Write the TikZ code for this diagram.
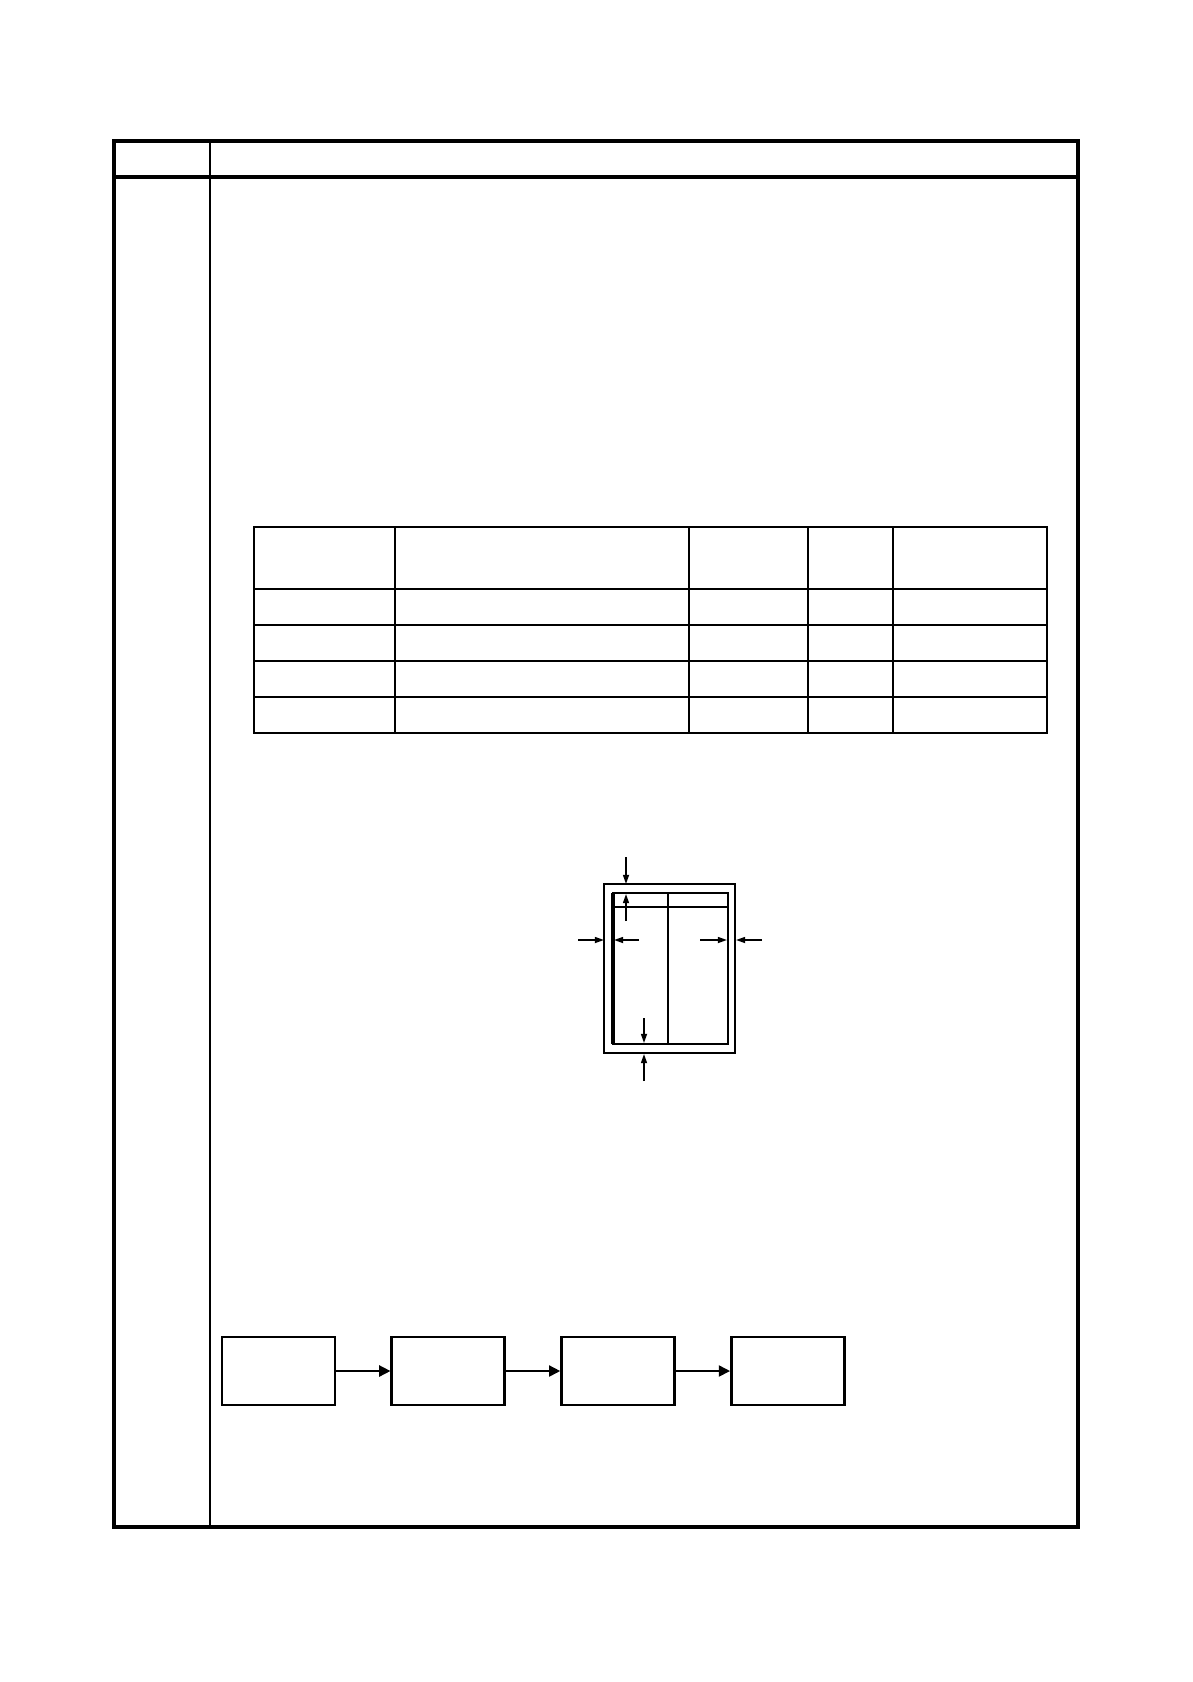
\documentclass[tikz,border=0pt]{standalone}
\usepackage{tikz}
\usetikzlibrary{arrows.meta,positioning}

\tikzset{
  frameline/.style={line width=1pt},
  thinline/.style={line width=0.5pt},
  flowbox/.style={draw, line width=0.7pt, minimum width=28.25pt, minimum height=17pt, inner sep=0pt},
  flowarrow/.style={line width=0.4pt, -{Triangle[length=2.8pt,width=2.8pt]}},
  dimarrow/.style={line width=0.4pt, -{Triangle[length=2.3pt,width=1.5pt]}}
}

\begin{document}
\begin{tikzpicture}[x=0.25pt,y=0.25pt,yscale=-1,xscale=1]
    \useasboundingbox (0,0) rectangle (1192,1682);

    %Shape: Rectangle [outer frame]
    \draw [frameline] (114,141) -- (1078,141) -- (1078,1527) -- (114,1527) -- cycle ;
    %Straight Lines [header row]
    \draw [frameline] (114,177) -- (1078,177) ;
    %Straight Lines [column divider]
    \draw [thinline] (210,141) -- (210,1527) ;

    %Shape: Rectangle [table]
    \draw [thinline] (254,527) -- (1047,527) -- (1047,733) -- (254,733) -- cycle ;
    \foreach \ry in {589,625,661,697} {
      \draw [thinline] (254,\ry) -- (1047,\ry) ;
    }
    \foreach \cx in {395,689,808,893} {
      \draw [thinline] (\cx,527) -- (\cx,733) ;
    }

    %Shape: Rectangle [paper, outer]
    \draw [thinline] (604,884) -- (735,884) -- (735,1053) -- (604,1053) -- cycle ;
    %Shape: Rectangle [paper, inner]
    \draw [thinline] (613,893) -- (728,893) -- (728,1044) -- (613,1044) -- cycle ;
    \draw [line width=0.8pt] (613,893) -- (613,1044) ;
    %Straight Lines [inner header and divider]
    \draw [thinline] (613,907) -- (728,907) ;
    \draw [thinline] (668,893) -- (668,1044) ;

    %Straight Lines [margin arrows]
    \draw [dimarrow] (626,857) -- (626,884) ;
    \draw [dimarrow] (626,921) -- (626,894) ;
    \draw [dimarrow] (578,940) -- (604,940) ;
    \draw [dimarrow] (639,940) -- (614,940) ;
    \draw [dimarrow] (700,940) -- (727,940) ;
    \draw [dimarrow] (762,940) -- (736,940) ;
    \draw [dimarrow] (644,1018) -- (644,1043) ;
    \draw [dimarrow] (644,1081) -- (644,1054) ;

    % Flow boxes
    \node [flowbox] (stepa) at (278.5,1371) {};
    \node [flowbox, right=54*0.25pt of stepa] (stepb) {};
    \node [flowbox, right=54*0.25pt of stepb] (stepc) {};
    \node [flowbox, right=54*0.25pt of stepc] (stepd) {};

    \draw [flowarrow] (stepa) -- (stepb) ;
    \draw [flowarrow] (stepb) -- (stepc) ;
    \draw [flowarrow] (stepc) -- (stepd) ;

\end{tikzpicture}
\end{document}
